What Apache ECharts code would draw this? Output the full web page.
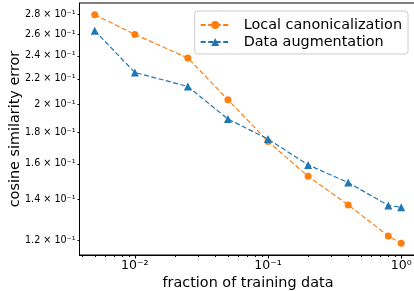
<!DOCTYPE html>
<html>
<head>
<meta charset="utf-8">
<script src="https://cdn.jsdelivr.net/npm/echarts@6/dist/echarts.min.js"></script>
<style>
  html, body { margin: 0; padding: 0; background: #fff; }
  #chart { width: 414px; height: 291px; }
</style>
</head>
<body>
<div id="chart"></div>
<script>
const fractions = [0.005, 0.01, 0.025, 0.05, 0.1, 0.2, 0.4, 0.8, 1.0]
const localCanon = [0.280, 0.260, 0.238, 0.2035, 0.174, 0.1527, 0.1372, 0.1221, 0.1188]
const dataAug = [0.2637, 0.2254, 0.2139, 0.1893, 0.1756, 0.1594, 0.1492, 0.1369, 0.1360]
const yTicks = [0.12, 0.14, 0.16, 0.18, 0.20, 0.22, 0.24, 0.26, 0.28]
const xMajorTicks = [0.01, 0.1, 1]
const xMinorTicks = [0.004, 0.005, 0.006, 0.007, 0.008, 0.009,
  0.02, 0.03, 0.04, 0.05, 0.06, 0.07, 0.08, 0.09,
  0.2, 0.3, 0.4, 0.5, 0.6, 0.7, 0.8, 0.9]

const font = '"DejaVu Sans", sans-serif'
const orange = '#ff7f0e'
const blue = '#1f77b4'
const sup = { '-': '⁻', '0': '⁰', '1': '¹', '2': '²', '3': '³' }
const xMin = 0.00384, xMax = 1.303
const yMin = 0.1137, yMax = 0.2925

const chart = echarts.init(document.getElementById('chart'), null, { renderer: 'canvas' })

const baseX = {
  type: 'log', logBase: 10, min: xMin, max: xMax,
  position: 'bottom', splitLine: { show: false }
}

chart.setOption({
  animation: false,
  textStyle: { fontFamily: font },
  grid: {
    left: 79.5, top: 3, width: 337, height: 252,
    show: true, borderColor: '#000', borderWidth: 1,
    containLabel: false, outerBoundsMode: 'none'
  },
  legend: {
    right: 6, top: 11,
    orient: 'vertical',
    padding: [7, 6, 5, 5],
    itemGap: 3,
    itemWidth: 29, itemHeight: 10,
    backgroundColor: 'rgba(255,255,255,0.8)',
    borderColor: '#ccc', borderWidth: 1, borderRadius: 3,
    textStyle: { fontFamily: font, fontSize: 14.4, color: '#000', padding: [0, 0, 0, 9] },
    data: ['Local canonicalization', 'Data augmentation']
  },
  xAxis: [
    Object.assign({}, baseX, {
      name: 'fraction of training data',
      nameLocation: 'middle', nameGap: 21, nameMoveOverlap: false,
      nameTextStyle: { fontFamily: font, fontSize: 14.4, color: '#000' },
      axisLine: { lineStyle: { color: '#000', width: 1 } },
      axisTick: { customValues: xMajorTicks, length: 3.5, lineStyle: { color: '#000' } },
      axisLabel: {
        customValues: xMajorTicks, margin: 4,
        fontFamily: font, fontSize: 12.5, color: '#000',
        formatter: v => '10' + String(Math.round(Math.log10(v))).split('').map(c => sup[c]).join('')
      }
    }),
    Object.assign({}, baseX, {
      axisLine: { show: false },
      axisTick: { customValues: xMinorTicks, length: 2, lineStyle: { color: '#000' } },
      axisLabel: { show: false }
    })
  ],
  yAxis: {
    type: 'log', logBase: 10, min: yMin, max: yMax,
    splitLine: { show: false },
    name: 'cosine similarity error',
    nameLocation: 'middle', nameGap: 57, nameMoveOverlap: false,
    nameTextStyle: { fontFamily: font, fontSize: 14.4, color: '#000' },
    axisLine: { show: true, lineStyle: { color: '#000', width: 1 } },
    axisTick: { customValues: yTicks, length: 2, lineStyle: { color: '#000' } },
    axisLabel: {
      customValues: yTicks, margin: 4,
      fontFamily: font, fontSize: 9.6, color: '#000',
      formatter: v => {
        const m = Math.round(v * 100) / 10
        return (Number.isInteger(m) ? m.toFixed(0) : m.toFixed(1)) + ' × 10⁻¹'
      }
    }
  },
  series: [
    {
      name: 'Local canonicalization', type: 'line',
      data: fractions.map((x, i) => [x, localCanon[i]]),
      symbol: 'circle', symbolSize: 7,
      itemStyle: { color: orange },
      lineStyle: { color: orange, width: 1.2, type: [5, 2.5] }
    },
    {
      name: 'Data augmentation', type: 'line',
      data: fractions.map((x, i) => [x, dataAug[i]]),
      symbol: 'triangle', symbolSize: 8,
      itemStyle: { color: blue },
      lineStyle: { color: blue, width: 1.2, type: [5, 2.5] }
    }
  ]
})
</script>
</body>
</html>
